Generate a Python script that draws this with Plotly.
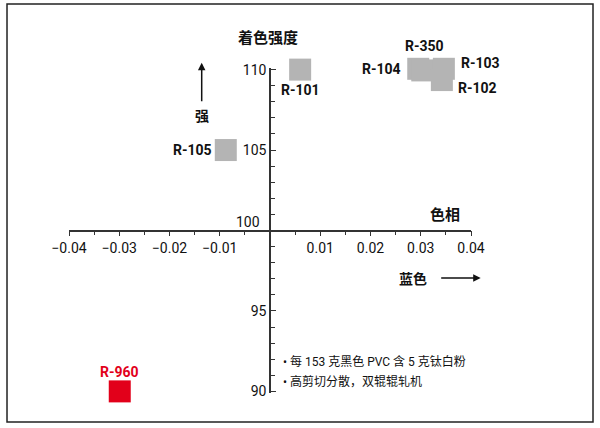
import plotly.graph_objects as go

# Pigments : écart de teinte (bleu) vs intensité de coloration
noms = ['R-101', 'R-105', 'R-104', 'R-350', 'R-103', 'R-102']
teinte = [0.006, -0.0088, 0.0295, 0.0303, 0.0346, 0.0342]
intensite = [110.0, 105.0, 110.05, 109.95, 110.05, 109.35]

nom_rouge = 'R-960'
teinte_rouge = -0.0299
intensite_rouge = 90.0

# positions des étiquettes (fraction du papier)
etiq_x = [0.5759, 0.3060, 0.7786, 0.8831, 1.0224, 1.0174]
etiq_y = [0.9323, 0.7477, 0.9960, 1.0677, 1.0145, 0.9375]
etiq_rouge = (0.1244, 0.0655)

x_ticks = [-0.04, -0.03, -0.02, -0.01, 0.01, 0.02, 0.03, 0.04]
x_labels = ['\u22120.04', '\u22120.03', '\u22120.02', '\u22120.01', '0.01', '0.02', '0.03', '0.04']
y_ticks = [90, 95, 105, 110]
y_labels = ['90', '95', '105', '110']

notes = ['• 每 153 克黑色 PVC 含 5 克钛白粉', '• 高剪切分散，双辊辊轧机']

NARROW = 'Roboto, Liberation Sans, sans-serif'
CJK = 'Noto Sans CJK SC, sans-serif'
MIXTE = 'Roboto, Noto Sans CJK SC, sans-serif'
GRIS = '#b4b4b4'
ROUGE = '#e2001a'

fig = go.Figure()

fig.add_trace(go.Scatter(
    x=teinte, y=intensite, mode='markers',
    marker=dict(symbol='square', size=22, color=GRIS, line=dict(width=0)),
    cliponaxis=False, hoverinfo='text', text=noms, showlegend=False
))
fig.add_trace(go.Scatter(
    x=[teinte_rouge], y=[intensite_rouge], mode='markers',
    marker=dict(symbol='square', size=22, color=ROUGE, line=dict(width=0)),
    cliponaxis=False, hoverinfo='text', text=[nom_rouge], showlegend=False
))


def texte(x, y, txt, famille, taille, couleur='#111', xanchor='center'):
    fig.add_annotation(x=x, y=y, xref='paper', yref='paper', text=txt, showarrow=False,
                       xanchor=xanchor, yanchor='middle',
                       font=dict(family=famille, size=taille, color=couleur))


# étiquettes des points
for nom, ex, ey in zip(noms, etiq_x, etiq_y):
    texte(ex, ey, f'<b>{nom}</b>', NARROW, 14)
texte(etiq_rouge[0], etiq_rouge[1], f'<b>{nom_rouge}</b>', NARROW, 14, ROUGE)

# "100" relevé au-dessus de l'axe horizontal
texte(0.4794, 0.5271, '100', NARROW, 14, xanchor='right')

# titres des axes
texte(0.4938, 1.0963, '<b>着色强度</b>', CJK, 15)
texte(0.9353, 0.5529, '<b>色相</b>', CJK, 15)
texte(0.3301, 0.8554, '<b>强</b>', CJK, 14)
texte(0.8557, 0.3529, '<b>蓝色</b>', CJK, 14)

# flèches
fig.add_annotation(x=0.3301, y=1.0163, xref='paper', yref='paper', text='', showarrow=True,
                   ax=0, ay=40, arrowhead=2, arrowsize=1, arrowwidth=1.5, arrowcolor='#111')
fig.add_annotation(x=1.0241, y=0.3538, xref='paper', yref='paper', text='', showarrow=True,
                   ax=-41, ay=0, arrowhead=2, arrowsize=1, arrowwidth=1.5, arrowcolor='#111')

# notes
for i, note in enumerate(notes):
    texte(0.5266, 0.0963 - i * 0.0615, note, MIXTE, 12, xanchor='left')

# cadre
fig.add_shape(type='rect', xref='paper', yref='paper', x0=-0.1542, x1=1.3035, y0=-0.0892, y1=1.1969,
              line=dict(color='#222', width=1.5))

fig.update_xaxes(
    range=[-0.04, 0.04], anchor='free', position=0.5, side='bottom',
    showgrid=False, zeroline=False, showline=True, linecolor='#333', linewidth=1.5,
    ticks='outside', ticklen=5, tickwidth=1.2, tickcolor='#333',
    tickvals=x_ticks, ticktext=x_labels,
    minor=dict(ticks='outside', tickvals=[-0.035, -0.025, -0.015, -0.005, 0.005, 0.015, 0.025, 0.035],
               ticklen=4, tickwidth=1.2, tickcolor='#333'),
    tickfont=dict(family=NARROW, size=14, color='#111')
)
fig.update_yaxes(
    range=[89.9, 110.1], anchor='free', position=0.5, side='left',
    showgrid=False, zeroline=False, showline=True, linecolor='#333', linewidth=1.5,
    ticks='inside', ticklen=5, tickwidth=1.2, tickcolor='#333',
    tickvals=y_ticks, ticktext=y_labels,
    minor=dict(ticks='inside', dtick=1, ticklen=4, tickwidth=1.2, tickcolor='#333', showgrid=False),
    tickfont=dict(family=NARROW, size=14, color='#111')
)

fig.update_layout(
    width=600, height=428,
    margin=dict(l=69, r=129, t=68, b=35),
    plot_bgcolor='white', paper_bgcolor='white',
    showlegend=False
)

fig.write_html('out.html', config={'displayModeBar': False},
               post_script="document.body.style.margin='0px';")
